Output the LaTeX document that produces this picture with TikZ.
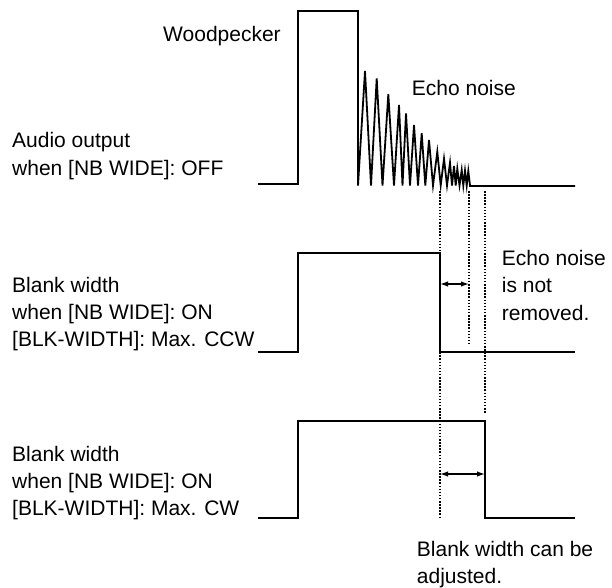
\documentclass[tikz,border=0pt]{standalone}
\usepackage{fontspec}
\setmainfont{Liberation Sans}
\usetikzlibrary{arrows.meta,positioning}
\tikzset{
  wave/.style={line width=1.8pt, line join=miter},
  guide/.style={dash pattern=on 1.5pt off 1.6pt, line width=1.5pt},
  dimarr/.style={{Latex[length=8pt,width=5.5pt]}-{Latex[length=8pt,width=5.5pt]}, line width=1.3pt},
  txt/.style={align=left, inner sep=0pt, font=\fontsize{21}{27.4}\selectfont},
}

\begin{document}
\begin{tikzpicture}[x=1pt, y=-1pt]
    \useasboundingbox (0,0) rectangle (612,587);
    % texts
    \node[txt, anchor=base west] (wp) at (163,41.7) {Woodpecker};
    \node[txt, anchor=base west] (echo) at (411.7,95) {Echo noise};
    \node[txt, anchor=north west] (audio) at (12,132.3) {Audio output\\when [NB WIDE]: OFF};
    \node[txt, anchor=north west] (ccw) at (12,276.7) {Blank width\\when [NB WIDE]: ON\\{}[BLK-WIDTH]: Max. CCW};
    \node[txt, anchor=north west] (cw) at (12,445.7) {Blank width\\when [NB WIDE]: ON\\{}[BLK-WIDTH]: Max. CW};
    \node[txt, anchor=north west] (notrm) at (501.7,250) {Echo noise\\is not\\removed.};
    \node[txt, anchor=north west] (adj) at (416.7,541) {Blank width can be\\adjusted.};
    % audio output with echo
    \draw[wave] (258,184) -- (298,184) -- (298,11) -- (358,11) -- (358,185.5)
      foreach \px/\py/\tx in {365/71/371, 376.7/78.3/382.5, 388.3/94.3/394, 399/105/402.5,
        406/113.3/410, 414/125/418, 421.7/133.3/425.3, 429/140/433, 437.3/151.7/440.7,
        444/158.7/447, 450/162.7/452, 454/166/455.7, 457.3/168.7/459.5, 461.7/170/463.3,
        465/170.7/466.7, 468.3/171/470} { -- (\px,\py) -- (\tx,185.5) }
      -- (470,186) -- (575,186);
    % blank width, max. CCW
    \draw[wave] (258,352) -- (298,352) -- (298,253) -- (440,253) -- (440,352) -- (575,352);
    % blank width, max. CW
    \draw[wave] (258,518) -- (298,518) -- (298,421) -- (485,421) -- (485,518) -- (575,518);
    % guides
    \coordinate (g1a) at (440,191); \coordinate (g1b) at (440,518);
    \coordinate (g2a) at (469,191); \coordinate (g2b) at (469,345);
    \coordinate (g3a) at (485,191); \coordinate (g3b) at (485,414);
    \draw[guide] (g1a) -- (g1b);
    \draw[guide] (g2a) -- (g2b);
    \draw[guide] (g3a) -- (g3b);
    % widths
    \coordinate (w1a) at (440,284); \coordinate (w1b) at (469,284);
    \coordinate (w2a) at (440,474); \coordinate (w2b) at (485,474);
    \draw[dimarr] (w1a) -- (w1b);
    \draw[dimarr] (w2a) -- (w2b);
\end{tikzpicture}
\end{document}
